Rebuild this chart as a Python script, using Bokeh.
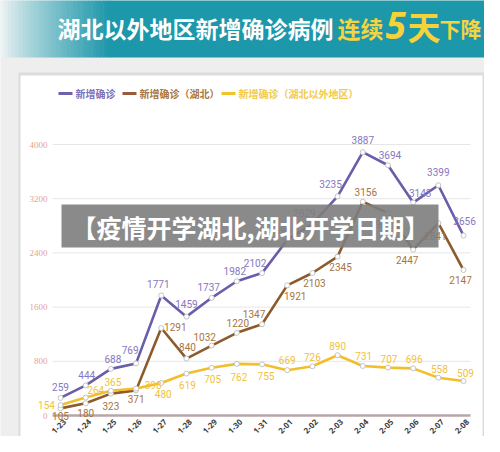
import math
from bokeh.plotting import figure
from bokeh.models import Range1d, ColumnDataSource
from bokeh.core.properties import value
from bokeh.embed import file_html
from bokeh.resources import INLINE

# ---------------- data ----------------
dates = ["1-23", "1-24", "1-25", "1-26", "1-27", "1-28", "1-29", "1-30", "1-31",
         "2-01", "2-02", "2-03", "2-04", "2-05", "2-06", "2-07", "2-08"]
total = [259, 444, 688, 769, 1771, 1459, 1737, 1982, 2102, 2590, 2829, 3235, 3887, 3694, 3143, 3399, 2656]
hubei = [105, 180, 323, 371, 1291, 840, 1032, 1220, 1347, 1921, 2103, 2345, 3156, 2987, 2447, 2841, 2147]
outside = [154, 264, 365, 398, 480, 619, 705, 762, 755, 669, 726, 890, 731, 707, 696, 558, 509]
y_ticks = [0, 800, 1600, 2400, 3200, 4000]

# label offsets (style, pixels; dy positive = downward)
total_dx = [0, 1, 2, -6, -3, 0, -3, -2, -7, -7, -8, -7, 0, 2, 7, 0, 1]
total_dy = [-11, -10, -10, -13, -12, -13, -11, -10, -10, -10, -11, -12, -12, -10, -10, -13, -15]
hubei_dx = [0, 0, 0, 0, 14, 1, -7, 1, -8, 8, 2, 3, 3, -7, -6, -3, -3]
hubei_dy = [8, 10, 12, 9, -1, -12, -9, -10, -10, 11, 10, 10, -10, 11, 10, 13, 10]
outside_dx = [-14, 10, 2, 17, 2, 1, 1, 2, 4, 0, 0, 0, 1, 1, 1, 1, 2]
outside_dy = [0, -8, -9, -4, 11, 11, 11, 13, 12, -10, -9, -9, -10, -9, -9, -9, -8]

# ---------------- geometry (picture pixels -> data) ----------------
X0_PX, STEP_PX = 60.0, 25.19
Y0_PX, PX_PER_800 = 415.0, 54.2
K = 800.0 / PX_PER_800
W, H = 484, 436


def fx(px):
    return (px - X0_PX) / STEP_PX


def fy(py):
    return (Y0_PX - py) * K


p = figure(width=W, height=H,
           x_range=Range1d(fx(0), fx(W)),
           y_range=Range1d(fy(H), fy(0)),
           output_backend="svg", toolbar_location=None,
           x_axis_location=None, y_axis_location=None, min_border=0)
p.grid.visible = False
p.outline_line_color = None
p.background_fill_color = "#eeeeee"
p.border_fill_color = "#eeeeee"

CJK = value("Noto Sans CJK SC")

# ---------------- header band ----------------
c0 = (244, 246, 246)
c1 = (29, 151, 170)
n = 30
lefts, rights, cols = [], [], []
for i in range(n):
    a = i * 110 / n
    b = (i + 1) * 110 / n + 0.5
    t = ((i + 0.5) / n) ** 0.8
    col = tuple(int(c0[j] + (c1[j] - c0[j]) * t) for j in range(3))
    lefts.append(fx(a))
    rights.append(fx(b))
    cols.append("#%02x%02x%02x" % col)
p.quad(left=lefts, right=rights, top=fy(-2), bottom=fy(57), fill_color=cols, line_color=None)
p.quad(left=fx(110), right=fx(490), top=fy(-2), bottom=fy(57), fill_color="#1d97aa", line_color=None)

p.text(x=[fx(57)], y=[fy(27)], text=["湖北以外地区新增确诊病例"], text_font=CJK,
       text_font_size="23px", text_font_style="bold", text_color="#ffffff",
       text_align="left", text_baseline="middle")
p.text(x=[fx(337)], y=[fy(27)], text=["连续"], text_font=CJK,
       text_font_size="23px", text_font_style="bold", text_color="#f3d443",
       text_align="left", text_baseline="middle")
p.text(x=[fx(385)], y=[fy(25)], text=["5"], text_font=value("Noto Sans"),
       text_font_size="37px", text_font_style="bold italic", text_color="#f5d23a",
       text_align="left", text_baseline="middle")
p.text(x=[fx(407)], y=[fy(25)], text=["天"], text_font=CJK,
       text_font_size="33px", text_font_style="bold", text_color="#f5d23a",
       text_align="left", text_baseline="middle")
p.text(x=[fx(439)], y=[fy(27)], text=["下降"], text_font=CJK,
       text_font_size="21px", text_font_style="bold", text_color="#f3d443",
       text_align="left", text_baseline="middle")

# ---------------- card ----------------
p.quad(left=fx(18), right=fx(490), top=fy(72), bottom=fy(470), fill_color="#dcdcdc", line_color=None)
p.quad(left=fx(20), right=fx(482), top=fy(75), bottom=fy(470), fill_color="#ffffff", line_color=None)

# ---------------- legend ----------------
leg_y = fy(93)
p.segment(x0=[fx(58), fx(122), fx(221)], x1=[fx(72), fx(136), fx(235)], y0=[leg_y] * 3, y1=[leg_y] * 3,
          line_color=["#6f62ad", "#9a5a3c", "#f2c22c"], line_width=3)
p.text(x=[fx(75), fx(139), fx(238)], y=[leg_y] * 3,
       text=["新增确诊", "新增确诊（湖北）", "新增确诊（湖北以外地区）"],
       text_font=CJK, text_font_size="10px", text_font_style="bold",
       text_color=["#7d70b8", "#a8763e", "#f2c94a"], text_align="left", text_baseline="middle")

# ---------------- grid & y tick labels ----------------
p.segment(x0=fx(52), x1=fx(470), y0=y_ticks[1:], y1=y_ticks[1:], line_color="#e6e6e6", line_width=1)
p.segment(x0=fx(52), x1=fx(470), y0=y_ticks[0], y1=y_ticks[0], line_color="#b8a6a6", line_width=2.5)
p.text(x=[fx(47)] * len(y_ticks), y=y_ticks, text=[str(t) for t in y_ticks],
       text_font=value("Liberation Serif"), text_font_size="9px", text_color="#e2a595",
       text_align="right", text_baseline="middle")

# ---------------- x labels ----------------
idx = list(range(len(dates)))
p.text(x=[i + 4 / STEP_PX for i in idx], y=[fy(Y0_PX + 5)] * len(idx), text=dates, angle=math.pi / 4,
       text_font=value("Noto Sans"), text_font_size="8px", text_font_style="bold",
       text_color="#3c3c3c", text_align="right", text_baseline="middle")

# ---------------- series ----------------
series = [
    (total, total_dx, total_dy, "#6b5daa", "#8677c0"),
    (hubei, hubei_dx, hubei_dy, "#8c5a2c", "#a87440"),
    (outside, outside_dx, outside_dy, "#f2bf2b", "#f0c23a"),
]
for vals, dxs, dys, lc, tc in series:
    src = ColumnDataSource(dict(x=idx, y=vals))
    p.line("x", "y", source=src, line_color=lc, line_width=2.6)
    p.scatter("x", "y", source=src, size=5, fill_color="#ffffff", line_color="#c4c4c4", line_width=1)

for vals, dxs, dys, lc, tc in series:
    lsrc = ColumnDataSource(dict(
        x=[i + d / STEP_PX for i, d in zip(idx, dxs)],
        y=[v - d * K for v, d in zip(vals, dys)],
        t=[str(v) for v in vals]))
    p.text("x", "y", "t", source=lsrc, text_font=value("Roboto"), text_font_size="10px",
           text_color=tc, text_align="center", text_baseline="middle")

# ---------------- overlay banner ----------------
p.quad(left=fx(61), right=fx(438), top=fy(204), bottom=fy(247), fill_color="#7d7d7d",
       fill_alpha=0.9, line_color=None)
p.text(x=[fx(250)], y=[fy(226)], text=["【疫情开学湖北,湖北开学日期】"], text_font=CJK,
       text_font_size="25px", text_font_style="bold", text_color="#ffffff",
       text_align="center", text_baseline="middle")

open("out.html", "w").write(file_html(p, INLINE))
